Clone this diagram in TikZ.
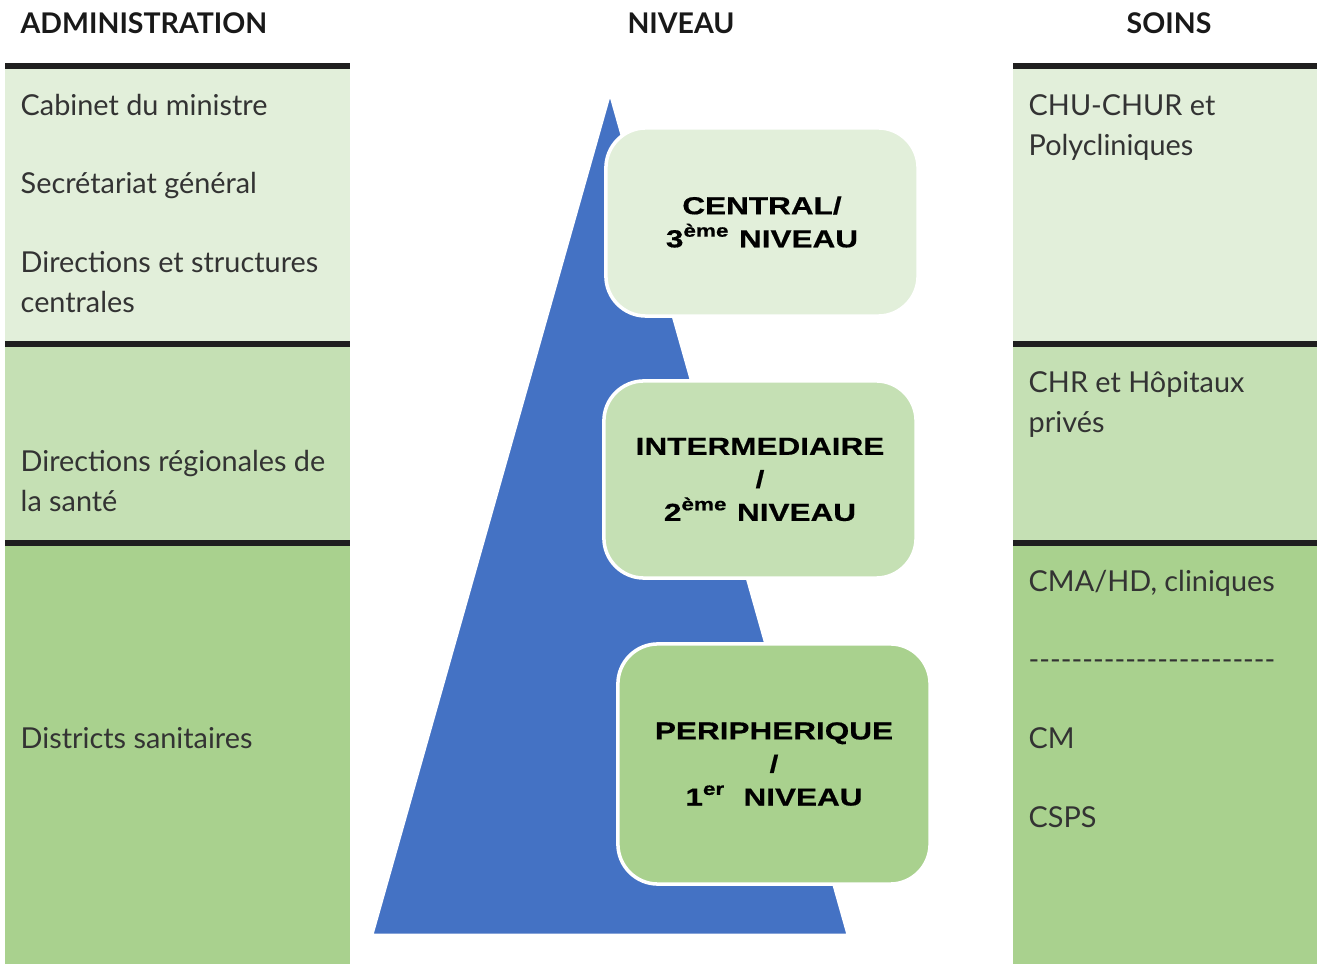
\documentclass[tikz,border=0pt]{standalone}
\usepackage{fontspec}
\setmainfont{Lato}
\newfontfamily\niveaufont[FakeStretch=1.28,FakeBold=0.6]{Liberation Sans}
\usepackage{tikz}

\definecolor{vertclair}{HTML}{E2EFDA}
\definecolor{vertmoyen}{HTML}{C5E0B4}
\definecolor{vertfonce}{HTML}{A9D18E}
\definecolor{bleupyr}{HTML}{4472C4}
\definecolor{texte}{HTML}{333333}

\tikzset{
  titre/.style={anchor=base, inner sep=0pt, text=black!90, font=\bfseries\fontsize{8.1}{10}\selectfont},
  item/.style={anchor=base west, align=left, inner sep=0pt, text=texte, font=\fontsize{8.2}{11.4}\selectfont},
  niveau/.style={draw=white, line width=1pt, rounded corners=0.4cm, minimum width=3.12cm,
    align=center, inner sep=0pt, font=\niveaufont\bfseries\fontsize{7}{9.4}\selectfont},
  barre/.style={line width=1.45pt, draw=black!88},
}

\begin{document}
\begin{tikzpicture}[x=0.01cm,y=-0.01cm]
\useasboundingbox (0,0) rectangle (1317,964);

% Define coordinates
\def\ag{5}      %Left edge, administration column.
\def\ad{350}    %Right edge, administration column.
\def\sg{1013}   %Left edge, soins column.
\def\sd{1317}   %Right edge, soins column.

\coordinate (sommet) at (610,93);
\coordinate (basg) at (372,935);
\coordinate (basd) at (848,935);

% Coloured bands of both columns
\foreach \xa/\xb in {\ag/\ad,\sg/\sd}{
  \fill[vertclair] (\xa,66) rectangle (\xb,344);
  \fill[vertmoyen] (\xa,344) rectangle (\xb,543);
  \fill[vertfonce] (\xa,543) rectangle (\xb,964);
  \foreach \y in {66,344,543}
    \draw[barre] (\xa,\y) -- (\xb,\y);
}

% Pyramid
\filldraw[fill=bleupyr,draw=white,line width=0.8pt] (sommet) -- (basd) -- (basg) -- cycle;

% Level boxes
\node[niveau,fill=vertclair,minimum height=1.88cm] (central) at (762,222)
  {CENTRAL/\\3\textsuperscript{ème} NIVEAU};
\node[niveau,fill=vertmoyen,minimum height=1.97cm] (intermediaire) at (760,479.5)
  {INTERMEDIAIRE\\/\\2\textsuperscript{ème} NIVEAU};
\node[niveau,fill=vertfonce,minimum height=2.40cm] (peripherique) at (774,764)
  {PERIPHERIQUE\\/\\1\textsuperscript{er}\ \ NIVEAU};

% Headers (base of the text)
\node[titre,anchor=base west] (administration) at (20,34) {ADMINISTRATION};
\node[titre] (niv) at (681,34) {NIVEAU};
\node[titre] (soins) at (1169,34) {SOINS};

% Administration column, y is the base of the last line
\node[item] (cabinet) at (20,116) {Cabinet du ministre};
\node[item] (sg) at (20,194) {Secrétariat général};
\node[item] (dsc) at (20,313) {Directions et structures\\centrales};
\node[item] (drs) at (20,512) {Directions régionales de\\la santé};
\node[item] (ds) at (20,749) {Districts sanitaires};

% Soins column
\node[item] (chu) at (1028,156) {CHU-CHUR et\\Polycliniques};
\node[item] (chr) at (1028,433) {CHR et Hôpitaux\\privés};
\node[item] (cma) at (1028,592) {CMA/HD, cliniques};
\node[item] (tirets) at (1028,670) {-{}-{}-{}-{}-{}-{}-{}-{}-{}-{}-{}-{}-{}-{}-{}-{}-{}-{}-{}-{}-{}-{}-{}};
\node[item] (cm) at (1028,749) {CM};
\node[item] (csps) at (1028,828) {CSPS};

\end{tikzpicture}
\end{document}
